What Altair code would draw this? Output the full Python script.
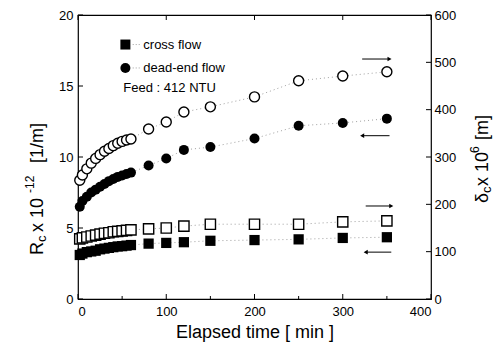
import altair as alt
import pandas as pd

# ---- data ----
time = [2, 5, 10, 15, 20, 25, 30, 35, 40, 45, 50, 55, 60,
        80, 100, 120, 150, 200, 250, 300, 350]
rc_dead = [6.5, 6.9, 7.2, 7.5, 7.7, 7.9, 8.1, 8.3, 8.45, 8.6, 8.7, 8.8, 8.9,
           9.4, 9.9, 10.5, 10.7, 11.3, 12.2, 12.4, 12.7]
rc_cross = [3.1, 3.2, 3.3, 3.35, 3.4, 3.5, 3.55, 3.6, 3.65, 3.7, 3.72, 3.76, 3.8,
            3.9, 3.95, 4.0, 4.1, 4.15, 4.2, 4.3, 4.35]
delta_dead = [251, 262, 275, 287, 297, 305, 312, 318, 324, 329, 333, 336, 338,
              359, 374, 395, 406, 427, 461, 471, 480]
delta_cross = [127, 129, 131, 133, 135, 137, 139, 140, 142, 143, 144, 145, 146,
               148, 150, 154, 158, 158, 158, 163, 165]

x_ticks = [0, 100, 200, 300, 400]
x_minor = [50, 150, 250, 350]
rc_ticks = [0, 5, 10, 15, 20]
delta_ticks = [0, 100, 200, 300, 400, 500, 600]

legend_labels = ["cross flow", "dead-end flow"]
feed_label = "Feed : 412 NTU"

W, H = 353, 284
FONT = "Liberation Sans"

df_rc = pd.DataFrame({"time": time * 2, "v": rc_cross + rc_dead,
                      "s": ["cross"] * len(time) + ["dead"] * len(time)})
df_dl = pd.DataFrame({"time": time * 2, "v": delta_cross + delta_dead,
                      "s": ["cross"] * len(time) + ["dead"] * len(time)})

xsc = alt.Scale(domain=[0, 400], nice=False)
ysc_l = alt.Scale(domain=[0, 20], nice=False)
ysc_r = alt.Scale(domain=[0, 600], nice=False)

ax_x = alt.Axis(values=x_ticks, title="Elapsed time [ min ]", ticks=False, domain=False,
                grid=False, labelFontSize=13, labelPadding=6, titleFontSize=18,
                titleFontWeight="normal", titlePadding=5, labelFont=FONT, titleFont=FONT,
                labelColor="black", titleColor="black")
ax_l = alt.Axis(values=rc_ticks, orient="left", title=None, ticks=False, domain=False,
                grid=False, labelFontSize=13, labelPadding=5, labelFont=FONT,
                labelColor="black")
ax_r = alt.Axis(values=delta_ticks, orient="right", title=None, ticks=False,
                domain=False, grid=False, labelFontSize=13, labelPadding=3,
                labelFont=FONT, labelColor="black")

def XT(f="time:Q"):
    return alt.X(f, scale=xsc, axis=ax_x)

def YL(f="v:Q"):
    return alt.Y(f, scale=ysc_l, axis=ax_l)

def YR(f="v:Q"):
    return alt.Y(f, scale=ysc_r, axis=ax_r)

def dummy():
    return alt.Chart(pd.DataFrame({"a": [0]}))

def piece(txt, x, y, size):
    return dummy().mark_text(angle=270, align="left", baseline="alphabetic", fontSize=size,
                             font=FONT, color="black").encode(
        text=alt.value(txt), x=alt.value(x), y=alt.value(y))

# ---- left (Rc) layer ----
line_l = alt.Chart(df_rc).mark_line(color="#888", strokeDash=[1, 3], strokeWidth=0.8).encode(
    x=XT(), y=YL(), detail="s:N")
sq_l = alt.Chart(df_rc[df_rc.s == "cross"]).mark_point(shape="square", filled=True, color="black",
                                                       size=105, opacity=1).encode(x=XT(), y=YL())
ci_l = alt.Chart(df_rc[df_rc.s == "dead"]).mark_point(shape="circle", filled=True, color="black",
                                                      size=100, opacity=1).encode(x=XT(), y=YL())

# legend
leg_pts = pd.DataFrame({"time": [53.7, 53.7], "v": [17.92, 16.27], "shp": ["square", "circle"]})
leg_mk = alt.Chart(leg_pts).mark_point(filled=True, color="black", size=100, opacity=1).encode(
    x=XT(), y=YL(),
    shape=alt.Shape("shp:N", scale=alt.Scale(domain=["square", "circle"], range=["square", "circle"]),
                    legend=None))
leg_ln = alt.Chart(pd.DataFrame({"time": [62, 62], "t2": [71, 71], "v": [17.92, 16.27]})).mark_rule(
    color="#888", strokeDash=[1, 2], strokeWidth=0.8).encode(x=XT(), x2="t2:Q", y=YL())
leg_tx = alt.Chart(pd.DataFrame({"time": [74, 74, 51.4], "v": [17.92, 16.27, 14.86],
                                 "lab": legend_labels + [feed_label]})).mark_text(
    align="left", baseline="middle", fontSize=13, font=FONT, color="black").encode(
    x=XT(), y=YL(), text="lab:N")

# arrows pointing left (Rc series)
arr_l = pd.DataFrame({"time": [322, 326], "t2": [353, 355], "v": [11.5, 3.3]})
arr_l_ln = alt.Chart(arr_l).mark_rule(color="black", strokeWidth=1).encode(
    x=XT(), x2="t2:Q", y=YL())
arr_l_hd = alt.Chart(arr_l).mark_point(shape="triangle-left", filled=True, color="black",
                                       size=22, opacity=1).encode(x=XT(), y=YL())

# inward ticks (left, bottom, top)
tk_l = alt.Chart(pd.DataFrame({"v": rc_ticks})).mark_rule(color="black").encode(
    y=YL(), x=alt.value(0), x2=alt.value(5))
tk_b = alt.Chart(pd.DataFrame({"time": x_ticks})).mark_rule(color="black").encode(
    x=XT(), y=alt.value(H), y2=alt.value(H - 5))
tk_bm = alt.Chart(pd.DataFrame({"time": x_minor})).mark_rule(color="black").encode(
    x=XT(), y=alt.value(H), y2=alt.value(H - 3))
tk_t = alt.Chart(pd.DataFrame({"time": x_ticks})).mark_rule(color="black").encode(
    x=XT(), y=alt.value(0), y2=alt.value(5))

# left title pieces
lt = [piece("R", -35, 240, 18), piece("c", -32, 227, 13), piece("x 10", -35, 217, 18),
      piece("-12", -44, 178, 12), piece("[1/m]", -35, 148, 18)]

left = alt.layer(line_l, sq_l, ci_l, leg_mk, leg_ln, leg_tx, arr_l_ln, arr_l_hd,
                 tk_l, tk_b, tk_bm, tk_t, *lt)

# ---- right (delta) layer ----
line_r = alt.Chart(df_dl).mark_line(color="#888", strokeDash=[1, 3], strokeWidth=0.8).encode(
    x=XT(), y=YR(), detail="s:N")
sq_r = alt.Chart(df_dl[df_dl.s == "cross"]).mark_point(shape="square", filled=True, fill="white",
                                                       stroke="black", strokeWidth=1.4, size=105,
                                                       opacity=1).encode(x=XT(), y=YR())
ci_r = alt.Chart(df_dl[df_dl.s == "dead"]).mark_point(shape="circle", filled=True, fill="white",
                                                      stroke="black", strokeWidth=1.4, size=100,
                                                      opacity=1).encode(x=XT(), y=YR())
arr_r = pd.DataFrame({"time": [322, 326], "t2": [353, 355], "v": [507, 196.5]})
arr_r_ln = alt.Chart(arr_r).mark_rule(color="black", strokeWidth=1).encode(
    x=XT(), x2="t2:Q", y=YR())
arr_r_hd = alt.Chart(arr_r).mark_point(shape="triangle-right", filled=True, color="black",
                                       size=22, opacity=1).encode(x=XT("t2:Q"), y=YR())
tk_r = alt.Chart(pd.DataFrame({"v": delta_ticks})).mark_rule(color="black").encode(
    y=YR(), x=alt.value(W), x2=alt.value(W - 5))

rt = [piece("\u03b4", 410, 188, 18), piece("c", 413, 178, 13), piece("x 10", 410, 171, 18),
      piece("6", 401, 138, 12), piece("[m]", 410, 125, 18)]

right = alt.layer(line_r, sq_r, ci_r, arr_r_ln, arr_r_hd, tk_r, *rt)

chart = alt.layer(left, right).resolve_scale(y="independent").properties(
    width=W, height=H,
    autosize=alt.AutoSizeParams(type="none"),
    padding={"left": 70, "top": 7, "right": 62, "bottom": 48},
).configure_view(stroke="black", strokeWidth=1.2)

chart.save("out.html", embed_options={"renderer": "svg", "actions": False})
